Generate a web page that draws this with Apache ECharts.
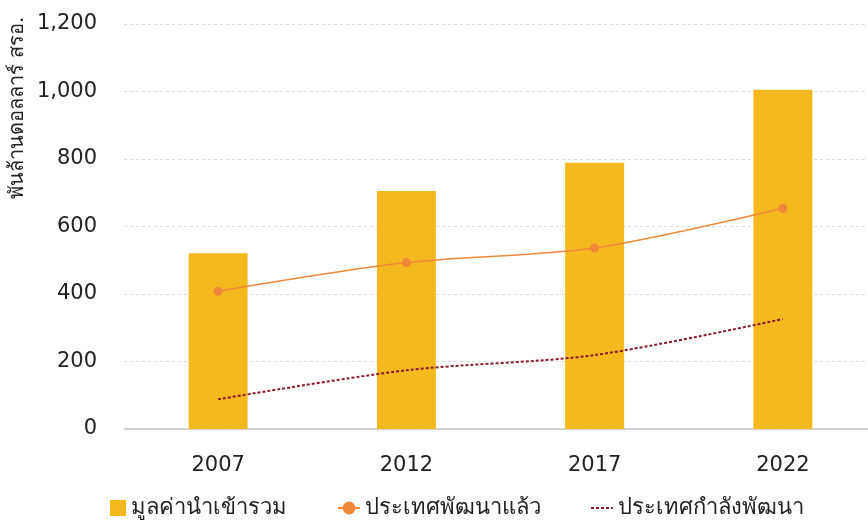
<!DOCTYPE html>
<html>
<head>
<meta charset="utf-8">
<script src="https://cdn.jsdelivr.net/npm/echarts@6/dist/echarts.min.js"></script>
<style>
  html, body { margin: 0; padding: 0; background: #ffffff; overflow: hidden; }
  /* plot area runs slightly past the right edge of the window */
  #chart { width: 877px; height: 520px; }
</style>
</head>
<body>
<div id="chart"></div>
<script>
// Import values, billions of US dollars
const years = ['2007', '2012', '2017', '2022'];
const totalImports = [521, 705, 789, 1005];
const developed = [408, 493, 536, 654];
const developing = [88, 174, 219, 326];
const yTicks = { min: 0, max: 1200, interval: 200 };

const seriesNames = ['มูลค่านำเข้ารวม', 'ประเทศพัฒนาแล้ว', 'ประเทศกำลังพัฒนา'];
const yTitle = 'พันล้านดอลลาร์ สรอ.';

const FONT = "'DejaVu Sans', 'Noto Sans', sans-serif";
const TEXT = '#222222';
const BAR = '#F5B920';
const ORANGE = '#F0883A';
const MAROON = '#8A1C2C';

// legend icons in a 22x16 box: a square flush right, and a short dashed stroke
const squareIcon = 'path://M0,0h0.01v0.01h-0.01zM22,16h-0.01v-0.01h0.01zM6,0h16v16h-16z';
const dashIcon = 'path://M0,0h0.01v0.01h-0.01zM22,16h-0.01v-0.01h0.01z' +
  'M0,7h3v2h-3zM5,7h3v2h-3zM10,7h3v2h-3zM15,7h3v2h-3zM20,7h2v2h-2z';

const chart = echarts.init(document.getElementById('chart'), null, { renderer: 'canvas' });

chart.setOption({
  animation: false,
  backgroundColor: '#ffffff',
  textStyle: { fontFamily: FONT, color: TEXT },
  grid: { left: 124, top: 24, right: 0, bottom: 91 },
  graphic: [{
    type: 'text',
    x: 18,
    y: 108,
    rotation: Math.PI / 2,
    style: {
      text: yTitle,
      fill: TEXT,
      font: "20px " + FONT,
      textAlign: 'center',
      textVerticalAlign: 'middle'
    }
  }],
  legend: {
    top: 492,
    left: 99,
    itemGap: 50,
    itemWidth: 22,
    itemHeight: 16,
    textStyle: { fontSize: 22, color: TEXT, fontFamily: FONT },
    data: [
      { name: seriesNames[0], icon: squareIcon, itemStyle: { color: BAR } },
      { name: seriesNames[1] },
      { name: seriesNames[2], icon: dashIcon, itemStyle: { color: MAROON } }
    ]
  },
  xAxis: {
    type: 'category',
    data: years,
    axisTick: { show: false },
    axisLine: { lineStyle: { color: '#c8c8c8', width: 1.5 } },
    axisLabel: { fontSize: 21, color: TEXT, margin: 26 }
  },
  yAxis: {
    type: 'value',
    min: yTicks.min,
    max: yTicks.max,
    interval: yTicks.interval,
    axisLine: { show: false },
    axisTick: { show: false },
    axisLabel: {
      fontSize: 21,
      color: TEXT,
      margin: 27,
      formatter: v => v.toLocaleString('en-US')
    },
    splitLine: { lineStyle: { color: '#dcdcdc', type: [3, 3], width: 1 } }
  },
  series: [
    {
      name: seriesNames[0],
      type: 'bar',
      data: totalImports,
      barWidth: 59,
      itemStyle: { color: BAR },
      z: 1
    },
    {
      name: seriesNames[1],
      type: 'line',
      data: developed,
      smooth: 0.3,
      symbol: 'circle',
      symbolSize: 9,
      itemStyle: { color: ORANGE },
      lineStyle: { color: ORANGE, width: 1.5 },
      z: 3
    },
    {
      name: seriesNames[2],
      type: 'line',
      data: developing,
      smooth: 0.3,
      symbol: 'none',
      itemStyle: { color: MAROON },
      lineStyle: { color: MAROON, width: 2, type: [3, 2] },
      z: 3
    }
  ]
});
</script>
</body>
</html>
